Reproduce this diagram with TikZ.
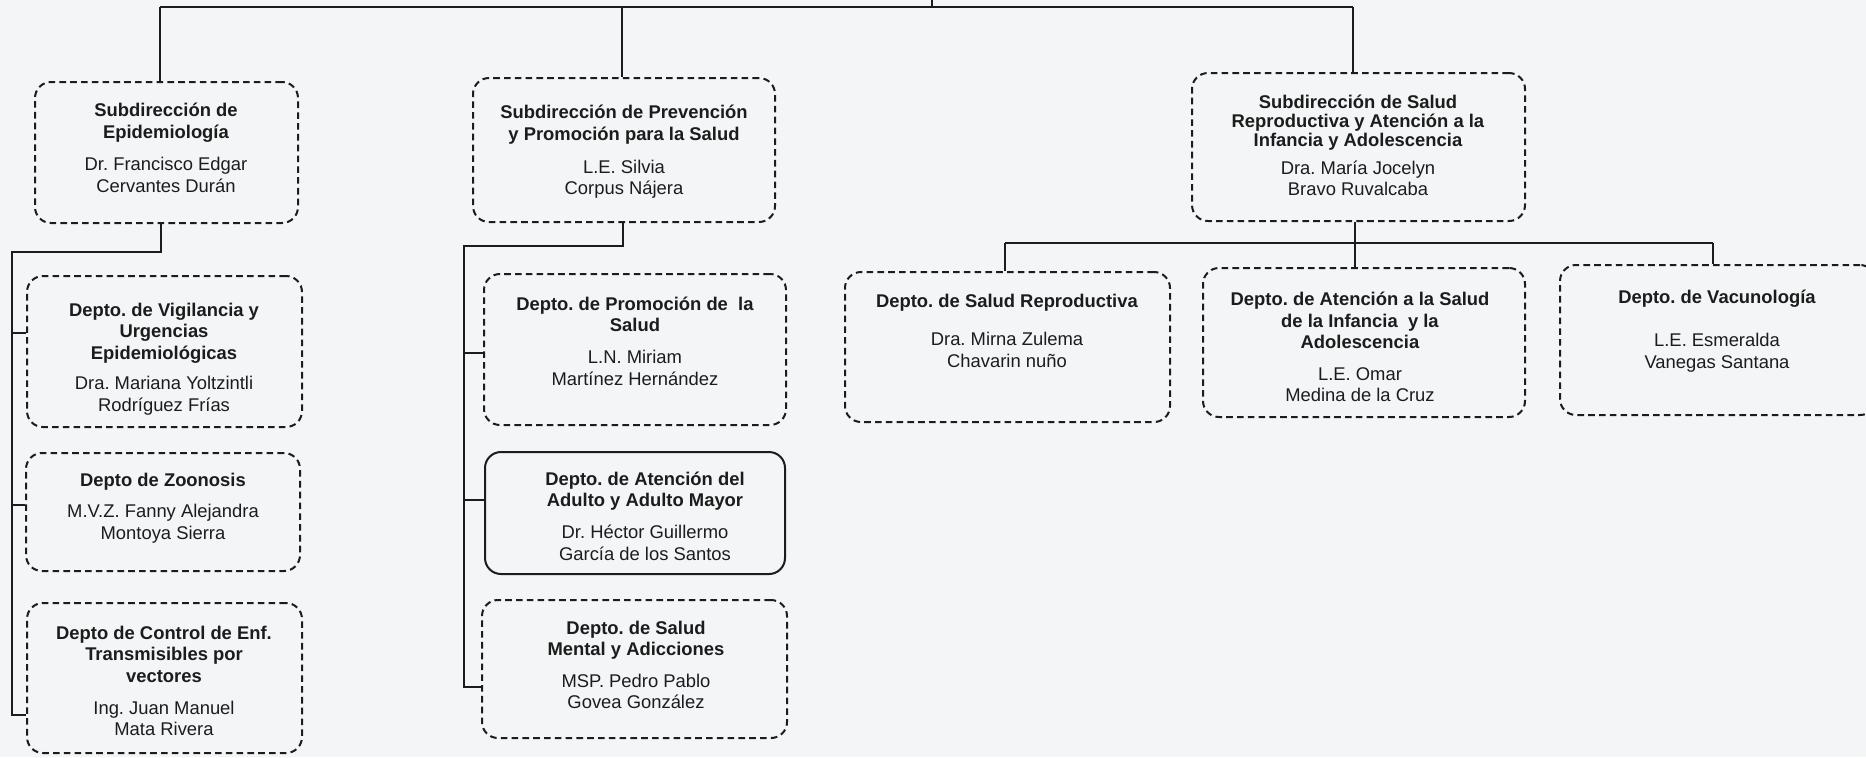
\documentclass[tikz,border=0pt]{standalone}
\usepackage{fontspec}
\setmainfont{Liberation Sans}
\usetikzlibrary{fit}
\definecolor{bg}{RGB}{244,245,246}
\definecolor{ink}{RGB}{28,28,28}
\tikzset{
  dbox/.style={draw=ink, line width=1pt, dash pattern=on 3.3pt off 2.1pt, rounded corners=8pt, inner sep=0pt},
  sbox/.style={draw=ink, line width=1pt, rounded corners=8pt, inner sep=0pt},
  txt/.style={align=center, font=\fontsize{9.2}{10.8}\selectfont\frenchspacing, text=ink, inner sep=0pt},
  conn/.style={draw=ink, line width=1pt}
}
\begin{document}
\frenchspacing
\begin{tikzpicture}[x=0.5pt,y=-0.5pt]
\fill[bg] (0,0) rectangle (1866,757);
\useasboundingbox (0,0) rectangle (1866,757);

% boxes
\node[dbox, fit={(35,82) (298,223)}] (b1) {};
\node[dbox, fit={(473,78) (775,222)}] (b2) {};
\node[dbox, fit={(1192,73) (1525,221)}] (b3) {};
\node[dbox, fit={(27,276) (302,427)}] (d1) {};
\node[dbox, fit={(26,453) (300,571)}] (d2) {};
\node[dbox, fit={(27,603) (302,753)}] (d3) {};
\node[dbox, fit={(484,274) (786,425)}] (d4) {};
\node[sbox, fit={(485,452) (785,574)}] (d5) {};
\node[dbox, fit={(482,600) (787,738)}] (d6) {};
\node[dbox, fit={(845,272) (1170,422)}] (d7) {};
\node[dbox, fit={(1203,268) (1525,417)}] (d8) {};
\node[dbox, fit={(1560,265) (1876,415)}] (d9) {};

% texts
\node[txt] (t1) at (166,148) {\textbf{Subdirección de}\\\textbf{Epidemiología}\\[5.5pt]Dr. Francisco Edgar\\Cervantes Durán};
\node[txt] (t2) at (624,152) {\textbf{Subdirección de Prevención}\\\textbf{y Promoción para la Salud}\\[5.5pt]L.E. Silvia\\Corpus Nájera};
\node[txt] (t3) at (1358,145) {\textbf{Subdirección de Salud}\\[-1.3pt]\textbf{Reproductiva y Atención a la}\\[-1.3pt]\textbf{Infancia y Adolescencia}\\[3.5pt]Dra. María Jocelyn\\[-0.5pt]Bravo Ruvalcaba};
\node[txt] (t4) at (164,359) {\textbf{Depto. de Vigilancia y}\\\textbf{Urgencias}\\\textbf{Epidemiológicas}\\[4.5pt]Dra. Mariana Yoltzintli\\Rodríguez Frías};
\node[txt] (t5) at (163,508) {\textbf{Depto de Zoonosis}\\[5pt]M.V.Z. Fanny Alejandra\\Montoya Sierra};
\node[txt] (t6) at (164,681) {\textbf{Depto de Control de Enf.}\\\textbf{Transmisibles por}\\\textbf{vectores}\\[5pt]Ing. Juan Manuel\\Mata Rivera};
\node[txt] (t7) at (635,341) {\textbf{Depto. de Promoción de\ \ la}\\\textbf{Salud}\\[5pt]L.N. Miriam\\Martínez Hernández};
\node[txt] (t8) at (645,516) {\textbf{Depto. de Atención del}\\\textbf{Adulto y Adulto Mayor}\\[5pt]Dr. Héctor Guillermo\\García de los Santos};
\node[txt] (t9) at (636,665) {\textbf{Depto. de Salud}\\\textbf{Mental y Adicciones}\\[5pt]MSP. Pedro Pablo\\Govea González};
\node[txt] (t10) at (1007,331) {\textbf{Depto. de Salud Reproductiva}\\[8pt]Dra. Mirna Zulema\\Chavarin nuño};
\node[txt] (t11) at (1360,347) {\textbf{Depto. de Atención a la Salud}\\\textbf{de la Infancia\ \ y la}\\\textbf{Adolescencia}\\[5pt]L.E. Omar\\Medina de la Cruz};
\node[txt] (t12) at (1717,331) {\textbf{Depto. de Vacunología}\\[11pt]L.E. Esmeralda\\Vanegas Santana};

% top connectors
\coordinate (root) at (932,0);
\coordinate (topL) at (160,7);
\coordinate (topR) at (1353,7);
\draw[conn] (root) -- (root |- topL);
\draw[conn] (topL) -- (topR);
\draw[conn] (topL) -- (topL |- b1.north);
\draw[conn] ([xshift=-1pt]b2.north) -- ([xshift=-1pt]b2.north |- topL);
\draw[conn] (topR) -- (topR |- b3.north);

% left column
\coordinate (l1) at (12,252);
\draw[conn] ([xshift=-2.75pt]b1.south) |- (l1) |- ([yshift=-18.5pt]d3.west);
\draw[conn] ([yshift=9.5pt]d1.west) -| (l1);
\draw[conn] ([yshift=3.5pt]d2.west) -| (l1);

% middle column
\coordinate (m1) at (464,246);
\draw[conn] ([xshift=-0.5pt]b2.south) |- (m1) |- ([yshift=-9pt]d6.west);
\draw[conn] ([yshift=-1.75pt]d4.west) -| (m1);
\draw[conn] ([yshift=6.5pt]d5.west) -| (m1);

% right group
\coordinate (rL) at (1005,243);
\coordinate (rR) at (1713,243);
\draw[conn] (rL) -- (rR);
\draw[conn] (rL) -- (rL |- d7.north);
\draw[conn] (rR) -- (rR |- d9.north);
\draw[conn] ([xshift=-1.75pt]b3.south) -- ([xshift=-1.75pt]b3.south |- d8.north);
\end{tikzpicture}
\end{document}
